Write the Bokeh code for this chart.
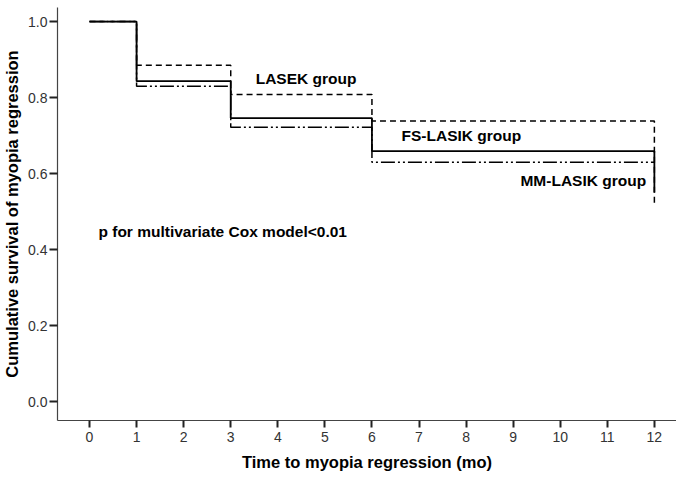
from bokeh.plotting import figure
from bokeh.models import Range1d, Label, FixedTicker
from bokeh.embed import file_html
from bokeh.resources import INLINE

# time points (months) and survival estimates
months = [0, 1, 3, 6, 12]
lasek = [1.0, 0.885, 0.808, 0.738, 0.515]
fs_lasik = [1.0, 0.843, 0.746, 0.659, 0.55]
mm_lasik = [1.0, 0.830, 0.722, 0.630, 0.630]

x_ticks = list(range(0, 13))
y_ticks = [0.0, 0.2, 0.4, 0.6, 0.8, 1.0]

FONT = "Liberation Sans"

p = figure(frame_width=619, frame_height=413, output_backend="svg", toolbar_location=None,
           x_range=Range1d(-0.68, 12.47), y_range=Range1d(-0.05, 1.037),
           min_border_left=54, min_border_right=0, min_border_top=7, min_border_bottom=52)
p.outline_line_color = None
p.grid.visible = False
p.background_fill_color = "white"

p.step(months, lasek, mode="after", line_color="black", line_width=1.5, line_dash="6 4")
p.step(months, fs_lasik, mode="after", line_color="black", line_width=1.8)
p.step(months, mm_lasik, mode="after", line_color="black", line_width=1.5,
       line_dash="14 3 2 3 2 3")

for ax in (p.xaxis[0], p.yaxis[0]):
    ax.axis_line_color = "#444444"
    ax.axis_line_width = 1.2
    ax.major_tick_line_color = "#222222"
    ax.major_tick_line_width = 2
    ax.major_tick_in = 0
    ax.major_tick_out = 7
    ax.minor_tick_line_color = None
    ax.major_label_text_font = FONT
    ax.major_label_text_font_size = "14px"
    ax.major_label_text_color = "#333333"
    ax.axis_label_text_font = FONT
    ax.axis_label_text_font_style = "bold"
    ax.axis_label_text_font_size = "16.5px"
    ax.axis_label_text_color = "black"

p.xaxis.ticker = FixedTicker(ticks=x_ticks)
p.yaxis.ticker = FixedTicker(ticks=y_ticks)
p.yaxis.major_label_overrides = {t: "%.1f" % t for t in y_ticks}
p.xaxis.major_label_standoff = 4
p.yaxis.major_label_standoff = 2
p.yaxis.major_tick_out = 8
p.xaxis.axis_label = "Time to myopia regression (mo)"
p.yaxis.axis_label = "Cumulative survival of myopia regression"
p.xaxis.axis_label_standoff = 8
p.yaxis.axis_label_standoff = 4

notes = [
    ("LASEK group", 4.6, 0.85, "center"),
    ("FS-LASIK group", 7.9, 0.70, "center"),
    ("MM-LASIK group", 10.49, 0.582, "center"),
    ("p for multivariate Cox model<0.01", 0.19, 0.447, "left"),
]
for txt, x, y, align in notes:
    p.add_layout(Label(x=x, y=y, text=txt, text_align=align, text_baseline="middle",
                       text_font=FONT, text_font_style="bold", text_font_size="15.5px",
                       text_color="black"))

open("out.html", "w").write(file_html(p, INLINE))
